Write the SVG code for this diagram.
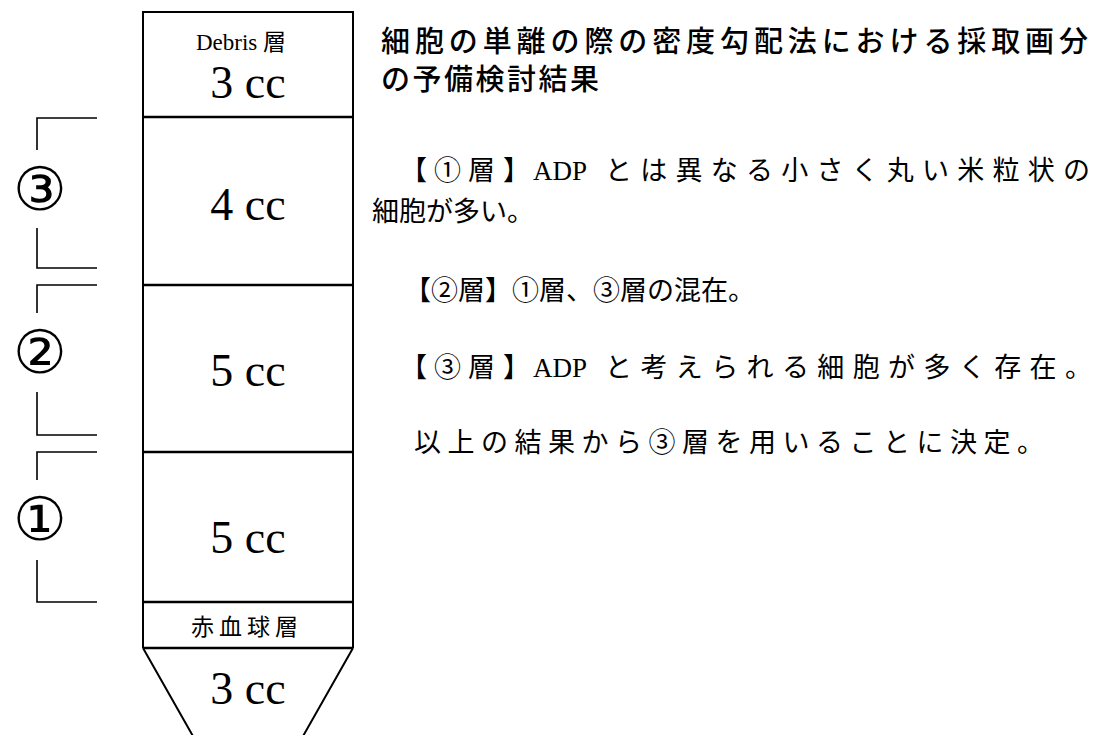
<svg xmlns="http://www.w3.org/2000/svg" width="1099" height="735" viewBox="0 0 1099 735">
<style>
.ln{stroke:#000;fill:none;stroke-width:2}
.dv{stroke:#000;stroke-width:2.5}
.br{stroke:#000;fill:none;stroke-width:1.6}
.cc{font-family:"Liberation Serif","Noto Sans CJK JP",serif;font-size:46px;text-anchor:middle;fill:#000}
.sm{font-family:"Liberation Serif","Noto Sans CJK JP",serif;font-size:23px;text-anchor:middle;fill:#000}
.num{font-family:"DejaVu Sans","Noto Sans CJK JP",sans-serif;font-size:60px;text-anchor:middle;fill:#000}
.ttl{font-family:"Noto Sans CJK JP",sans-serif;font-size:29px;font-weight:500;fill:#000}
.bd{font-family:"Liberation Serif","Noto Sans CJK JP",serif;font-size:27px;fill:#000}
</style>
<rect width="1099" height="735" fill="#fff"/>
<g id="column">
  <path class="ln" d="M143,648 L143,12 L353,12 L353,648"/>
  <path class="ln" d="M143,648 L198,745 M353,648 L298,745"/>
</g>
<g id="dividers">
  <line class="dv" x1="143" y1="117" x2="353" y2="117"/>
  <line class="dv" x1="143" y1="285" x2="353" y2="285"/>
  <line class="dv" x1="143" y1="452" x2="353" y2="452"/>
  <line class="dv" x1="143" y1="602" x2="353" y2="602"/>
  <line class="dv" x1="143" y1="648" x2="353" y2="648"/>
</g>
<g id="layer-debris">
  <text class="sm" x="241" y="50" font-size="24">Debris 層</text>
  <text class="cc" x="248" y="98">3 cc</text>
</g>
<g id="layer-4cc"><text class="cc" x="248" y="220">4 cc</text></g>
<g id="layer-5cc-a"><text class="cc" x="248" y="386">5 cc</text></g>
<g id="layer-5cc-b"><text class="cc" x="248" y="553">5 cc</text></g>
<g id="layer-rbc"><text class="sm" x="247" y="635" letter-spacing="5">赤血球層</text></g>
<g id="layer-bottom"><text class="cc" x="248" y="704">3 cc</text></g>
<g id="bracket-3">
  <path class="br" d="M97,118 L37,118 L37,150 M37,228 L37,268 L97,268"/>
  <text class="num" x="40" y="210">③</text>
</g>
<g id="bracket-2">
  <path class="br" d="M97,285 L37,285 L37,313 M37,392 L37,435 L97,435"/>
  <text class="num" x="40" y="373">②</text>
</g>
<g id="bracket-1">
  <path class="br" d="M97,452 L37,452 L37,480 M37,560 L37,602 L97,602"/>
  <text class="num" x="40" y="540">①</text>
</g>
<g id="text-block">
  <text class="ttl" x="381" y="52" textLength="707" lengthAdjust="spacing">細胞の単離の際の密度勾配法における採取画分</text>
  <text class="ttl" x="381" y="90" letter-spacing="2.5">の予備検討結果</text>
  <text class="bd" y="180"><tspan x="400">【</tspan><tspan x="434">①</tspan><tspan x="468">層</tspan><tspan x="503">】</tspan><tspan x="533">ADP</tspan><tspan x="605" textLength="485" lengthAdjust="spacing">とは異なる小さく丸い米粒状の</tspan></text>
  <text class="bd" x="372" y="221">細胞が多い。</text>
  <text class="bd" x="404" y="300">【②層】①層、③層の混在。</text>
  <text class="bd" y="377"><tspan x="400">【</tspan><tspan x="434">③</tspan><tspan x="468">層</tspan><tspan x="503">】</tspan><tspan x="533">ADP</tspan><tspan x="605" textLength="487" lengthAdjust="spacing">と考えられる細胞が多く存在。</tspan></text>
  <text class="bd" x="414" y="452" letter-spacing="6.5">以上の結果から③層を用いることに決定。</text>
</g>
</svg>
